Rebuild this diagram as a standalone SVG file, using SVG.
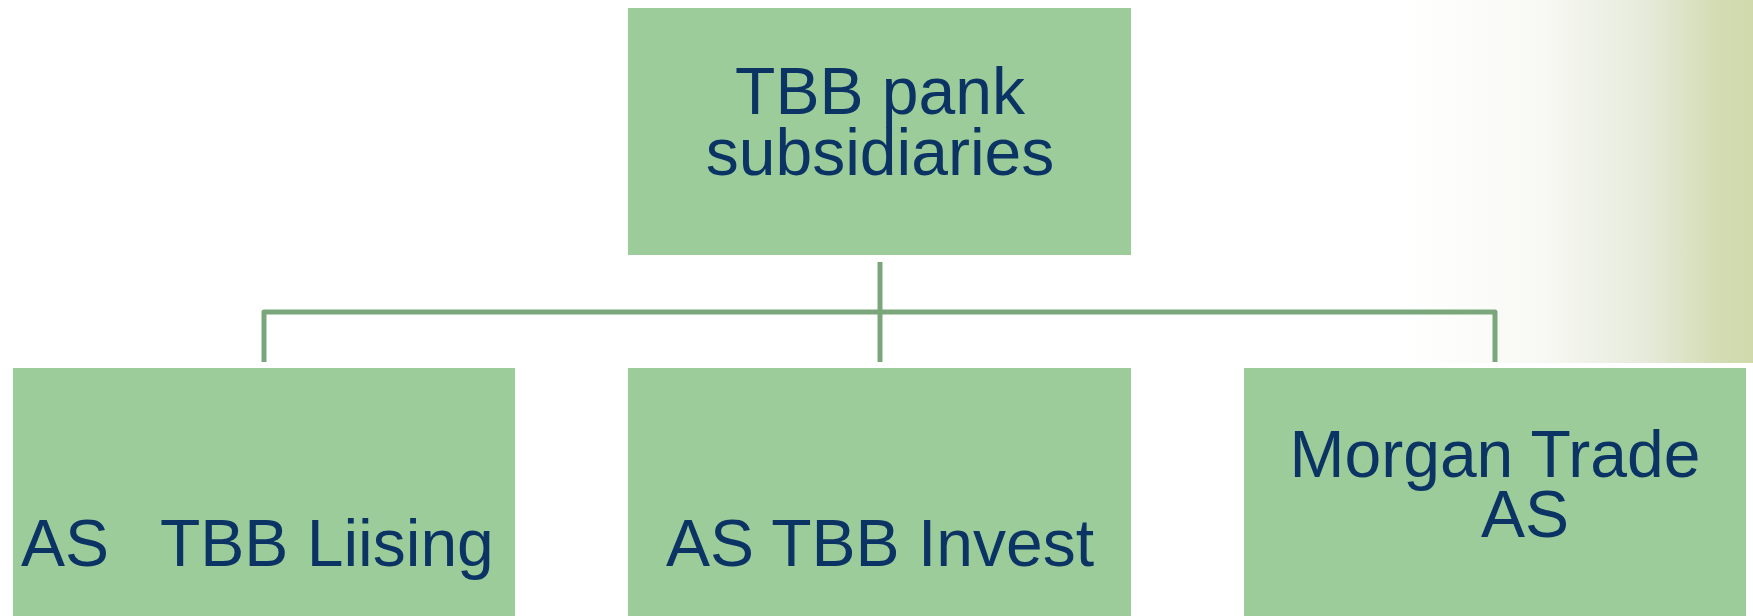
<svg xmlns="http://www.w3.org/2000/svg" width="1753" height="616" viewBox="0 0 1753 616">
  <defs>
    <linearGradient id="bgGrad" x1="0" y1="0" x2="1" y2="0">
      <stop offset="0" stop-color="#ffffff"/>
      <stop offset="0.4" stop-color="#f8f9f4"/>
      <stop offset="0.7" stop-color="#e6eada"/>
      <stop offset="0.9" stop-color="#d3dcb3"/>
      <stop offset="1" stop-color="#cfd9ab"/>
    </linearGradient>
  </defs>
  <style>
    .box { fill: #9bcc9a; }
    .lbl { font-family: "Liberation Sans", Arial, sans-serif; font-size: 66px; fill: #0b3363; text-anchor: middle; }
    .lbl-start { font-family: "Liberation Sans", Arial, sans-serif; font-size: 66px; fill: #0b3363; }
    .conn { fill: none; stroke: #7ba67b; stroke-width: 5; stroke-linejoin: round; }
  </style>
  <rect width="1753" height="616" fill="#ffffff"/>
  <rect x="1400" y="0" width="353" height="363" fill="url(#bgGrad)"/>

  <g id="connectors">
    <path class="conn" d="M880,262 V362"/>
    <path class="conn" d="M264,362 V312 H1495 V362"/>
  </g>

  <g id="node-root">
    <rect class="box" x="628" y="8" width="503" height="247"/>
    <text class="lbl" x="880" y="114">TBB pank</text>
    <text class="lbl" x="880" y="175">subsidiaries</text>
  </g>

  <g id="node-liising">
    <rect class="box" x="13" y="368" width="502" height="260"/>
    <text class="lbl-start" y="566"><tspan x="21">AS</tspan><tspan x="160">TBB Liising</tspan></text>
  </g>

  <g id="node-invest">
    <rect class="box" x="628" y="368" width="503" height="260"/>
    <text class="lbl" x="880" y="566">AS TBB Invest</text>
  </g>

  <g id="node-morgan">
    <rect x="1239" y="363" width="514" height="260" fill="#ffffff"/>
    <rect class="box" x="1244" y="368" width="502" height="260"/>
    <text class="lbl" x="1495" y="477">Morgan Trade</text>
    <text class="lbl" x="1525" y="537">AS</text>
  </g>
</svg>
